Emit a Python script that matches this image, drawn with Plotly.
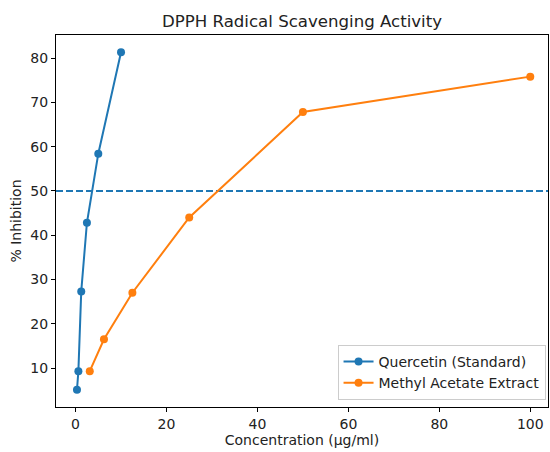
import plotly.graph_objects as go

# DPPH assay: concentrations (µg/ml) and % inhibition
quercetin_conc = [0.3125, 0.625, 1.25, 2.5, 5, 10]
quercetin_inhib = [5.1, 9.3, 27.3, 42.8, 58.4, 81.3]
extract_conc = [3.125, 6.25, 12.5, 25, 50, 100]
extract_inhib = [9.3, 16.5, 27.0, 44.0, 67.8, 75.8]
ic50_level = 50

x_ticks = [0, 20, 40, 60, 80, 100]
y_ticks = [10, 20, 30, 40, 50, 60, 70, 80]

BLUE = "#1f77b4"
ORANGE = "#ff7f0e"
FONT = "DejaVu Sans"
TEXT = 14

fig = go.Figure()
fig.add_trace(go.Scatter(
    x=quercetin_conc, y=quercetin_inhib, mode="lines+markers",
    name="Quercetin (Standard)",
    line=dict(color=BLUE, width=2), marker=dict(color=BLUE, size=8),
))
fig.add_trace(go.Scatter(
    x=extract_conc, y=extract_inhib, mode="lines+markers",
    name="Methyl Acetate Extract",
    line=dict(color=ORANGE, width=2), marker=dict(color=ORANGE, size=8),
))

# 50% inhibition reference line
fig.add_shape(type="line", xref="paper", x0=0, x1=1, yref="y",
              y0=ic50_level, y1=ic50_level,
              line=dict(color=BLUE, width=2, dash="7px,3px"), layer="below")

axis_common = dict(
    showgrid=False, zeroline=False, showline=True, linecolor="black",
    linewidth=1, mirror=True, ticks="outside", ticklen=4, tickwidth=1,
    tickcolor="black", tickfont=dict(family=FONT, size=TEXT, color="#222"),
)

fig.update_layout(
    width=550, height=452,
    margin=dict(l=56, r=2, t=35, b=45),
    paper_bgcolor="white", plot_bgcolor="white",
    font=dict(family=FONT, size=TEXT, color="#222"),
    title=dict(text="DPPH Radical Scavenging Activity", x=0.5, xref="paper",
               xanchor="center", y=0.953, yanchor="middle",
               font=dict(family=FONT, size=16.6, color="#222")),
    xaxis=dict(range=[-4.3, 103.9], tickvals=x_ticks,
               title=dict(text="Concentration (µg/ml)", standoff=3,
                          font=dict(family=FONT, size=TEXT)),
               **axis_common),
    yaxis=dict(range=[1.2, 85.2], tickvals=y_ticks,
               title=dict(text="% Inhibition", standoff=5,
                          font=dict(family=FONT, size=TEXT)),
               **axis_common),
    legend=dict(x=0.995, y=0.019, xanchor="right", yanchor="bottom",
                bgcolor="rgba(255,255,255,0.8)", bordercolor="#cccccc",
                borderwidth=1, font=dict(family=FONT, size=TEXT),
                itemwidth=30, tracegroupgap=0),
    showlegend=True,
)

fig.write_html("out.html")
